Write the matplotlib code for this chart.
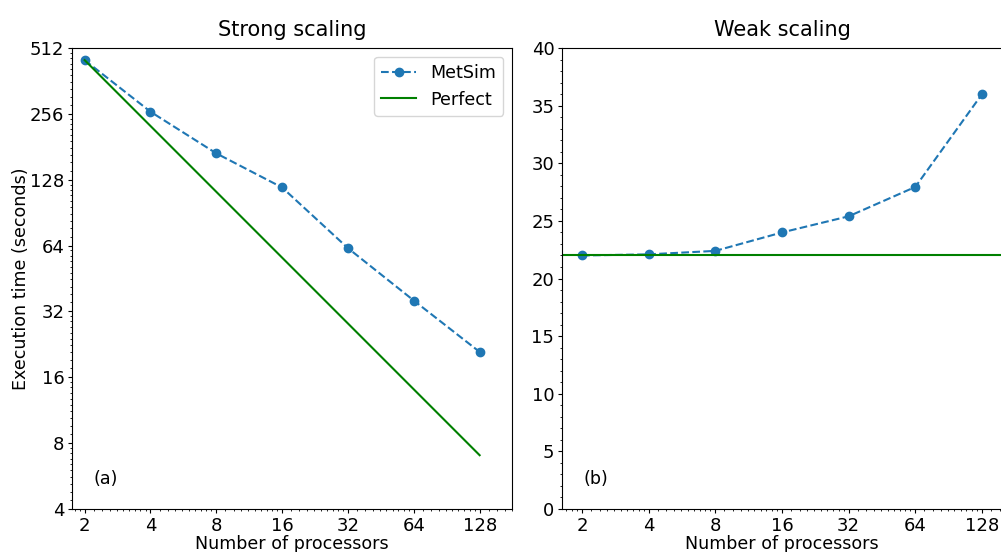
import numpy as np
import matplotlib
matplotlib.use("Agg")
from matplotlib import pyplot as plt
from matplotlib.ticker import LogLocator, FuncFormatter, AutoMinorLocator

# number of processors
procs = [2, 4, 8, 16, 32, 64, 128]

# strong scaling times (seconds)
strong_metsim = [451, 262, 169, 118, 62.3, 35.9, 20.9]
# weak scaling times (seconds)
weak_metsim = [22.0, 22.1, 22.4, 24.0, 25.4, 27.95, 36.0]

strong_yticks = [4, 8, 16, 32, 64, 128, 256, 512]

# perfect scaling derived from the first run
strong_perfect = [strong_metsim[0] * procs[0] / p for p in procs]
weak_perfect = weak_metsim[0]

plt.rcParams['font.size'] = 12.6
plt.rcParams['xtick.labelsize'] = 13
plt.rcParams['ytick.labelsize'] = 13
plt.rcParams['xtick.major.size'] = 3
plt.rcParams['ytick.major.size'] = 3
plt.rcParams['xtick.minor.size'] = 1.5
plt.rcParams['ytick.minor.size'] = 1.5
plt.rcParams['xtick.major.pad'] = 2.5
plt.rcParams['ytick.major.pad'] = 2.5
plt.rcParams['legend.fontsize'] = 12.6

int_fmt = FuncFormatter(lambda v, pos: "%d" % v)
minor_subs = np.arange(1.1, 2.0, 0.1)

fig = plt.figure(figsize=(10.01, 5.52), dpi=100)
ax1 = fig.add_axes([0.0719, 0.0779, 0.4396, 0.835])
ax2 = fig.add_axes([0.5614, 0.0779, 0.4396, 0.835])

# strong scaling
ax1.plot(procs, strong_metsim, 'o--', color='C0', label='MetSim')
ax1.plot(procs, strong_perfect, '-', color='green', label='Perfect')
ax1.set_xscale('log', base=2)
ax1.set_yscale('log', base=2)
ax1.set_xlim(1.75, 180)
ax1.set_ylim(4, 512)
ax1.set_xticks(procs)
ax1.set_yticks(strong_yticks)
ax1.xaxis.set_major_formatter(int_fmt)
ax1.yaxis.set_major_formatter(int_fmt)
ax1.xaxis.set_minor_locator(LogLocator(base=2, subs=minor_subs))
ax1.yaxis.set_minor_locator(LogLocator(base=2, subs=minor_subs))
ax1.xaxis.set_minor_formatter(plt.NullFormatter())
ax1.yaxis.set_minor_formatter(plt.NullFormatter())
ax1.set_xlabel('Number of processors', labelpad=0)
ax1.set_ylabel('Execution time (seconds)', labelpad=0)
ax1.set_title('Strong scaling', fontsize=15, pad=9)
ax1.legend(loc='upper right')
ax1.text(0.05, 0.065, '(a)', transform=ax1.transAxes, va='center')

# weak scaling
ax2.plot(procs, weak_metsim, 'o--', color='C0', label='MetSim')
ax2.axhline(weak_perfect, color='green', label='Perfect')
ax2.set_xscale('log', base=2)
ax2.set_ylim(0, 40)
ax2.set_xticks(procs)
ax2.xaxis.set_major_formatter(int_fmt)
ax2.xaxis.set_minor_locator(LogLocator(base=2, subs=minor_subs))
ax2.xaxis.set_minor_formatter(plt.NullFormatter())
ax2.yaxis.set_minor_locator(AutoMinorLocator())
ax2.set_xlabel('Number of processors', labelpad=0)
ax2.set_title('Weak scaling', fontsize=15, pad=9)
ax2.text(0.05, 0.065, '(b)', transform=ax2.transAxes, va='center')

fig.savefig('out.png', dpi=100)
